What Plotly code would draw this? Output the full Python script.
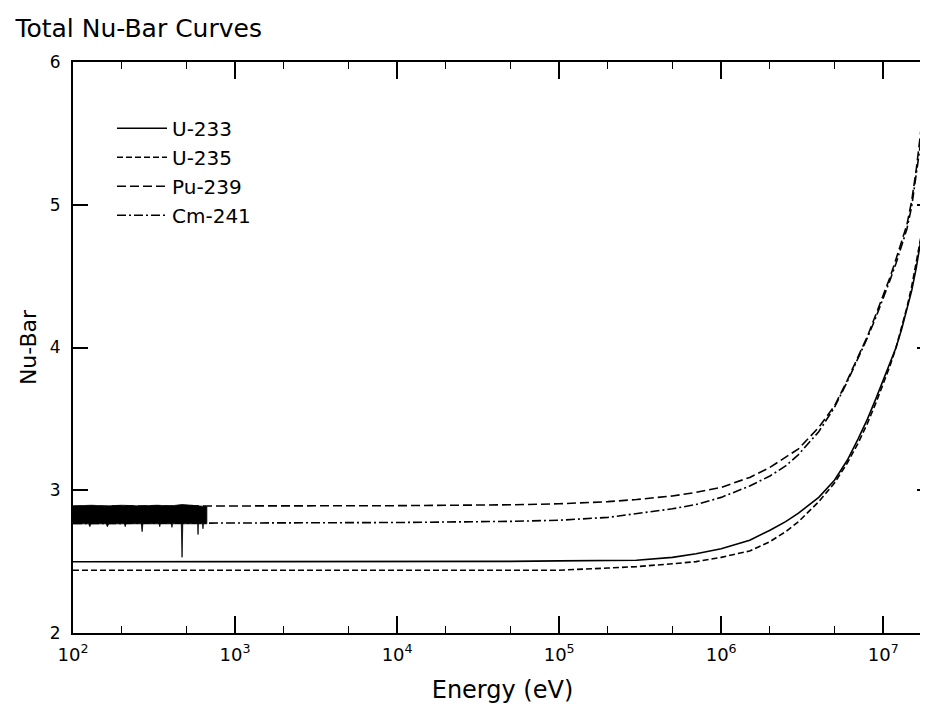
import plotly.graph_objects as go
import math

# ---------------- data ----------------
energy = [1e2, 1e3, 1e4, 5e4, 1e5, 2e5, 3e5, 5e5, 7e5, 1e6, 1.5e6, 2e6, 2.5e6, 3e6,
          4e6, 5e6, 6e6, 7e6, 8e6, 9e6, 1e7, 1.1e7, 1.2e7, 1.3e7, 1.4e7, 1.5e7,
          1.6e7, 1.7e7, 1.8e7, 1.9e7, 2e7]

u233 = [2.499, 2.499, 2.500, 2.502, 2.505, 2.507, 2.510, 2.530, 2.555, 2.590, 2.650,
        2.720, 2.780, 2.840, 2.950, 3.070, 3.210, 3.360, 3.500, 3.640, 3.770, 3.890,
        4.000, 4.130, 4.260, 4.400, 4.560, 4.730, 4.910, 5.080, 5.250]

u235 = [2.440, 2.440, 2.440, 2.435, 2.440, 2.455, 2.465, 2.485, 2.500, 2.530, 2.575,
        2.640, 2.710, 2.780, 2.920, 3.050, 3.190, 3.330, 3.470, 3.610, 3.740, 3.870,
        4.000, 4.140, 4.280, 4.430, 4.590, 4.760, 4.940, 5.120, 5.300]

pu239 = [2.888, 2.889, 2.892, 2.898, 2.905, 2.920, 2.935, 2.960, 2.985, 3.020, 3.090,
         3.160, 3.230, 3.290, 3.440, 3.590, 3.770, 3.930, 4.080, 4.230, 4.360, 4.490,
         4.620, 4.740, 4.860, 5.030, 5.250, 5.500, 5.820, 6.150, 6.450]

cm241 = [2.767, 2.770, 2.774, 2.782, 2.790, 2.810, 2.835, 2.870, 2.900, 2.950, 3.030,
         3.100, 3.170, 3.250, 3.410, 3.580, 3.760, 3.920, 4.070, 4.210, 4.340, 4.470,
         4.590, 4.710, 4.830, 4.990, 5.200, 5.430, 5.720, 6.020, 6.300]

# resolved-resonance band (Pu-239 / Cm-241 fluctuations below ~700 eV)
res_top_energy = [100, 130, 160, 200, 260, 330, 400, 470, 540, 600, 670]
res_top = [2.890, 2.895, 2.890, 2.895, 2.890, 2.895, 2.890, 2.900, 2.895, 2.890, 2.885]
res_bot_energy = [670, 638, 634, 630, 594, 591, 588, 476, 471, 466, 411, 408, 405,
                  346, 343, 340, 270, 267, 264, 212, 210, 208, 166, 163, 160,
                  129, 127, 125, 100]
res_bot = [2.765, 2.765, 2.730, 2.765, 2.765, 2.690, 2.765, 2.765, 2.530, 2.765,
           2.765, 2.740, 2.765, 2.765, 2.745, 2.765, 2.765, 2.710, 2.765, 2.765,
           2.745, 2.765, 2.765, 2.745, 2.765, 2.765, 2.745, 2.765, 2.765]

series_names = ["U-233", "U-235", "Pu-239", "Cm-241"]
x_tick_values = [1e2, 1e3, 1e4, 1e5, 1e6, 1e7]
x_tick_text = ["10<sup>2</sup>", "10<sup>3</sup>", "10<sup>4</sup>",
               "10<sup>5</sup>", "10<sup>6</sup>", "10<sup>7</sup>"]
x_range = [1e2, 2e7]
y_range = [2, 6]
y_tick_values = [2, 3, 4, 5, 6]

# ---------------- figure ----------------
FONT = "DejaVu Sans, Liberation Sans, Arial, sans-serif"
fig = go.Figure()

fig.add_trace(go.Scatter(
    x=res_top_energy + res_bot_energy, y=res_top + res_bot,
    fill="toself", fillcolor="black", mode="lines",
    line=dict(color="black", width=0.8), showlegend=False, hoverinfo="skip"))

styles = [
    dict(color="black", width=1.6, dash="solid"),
    dict(color="black", width=1.6, dash="6px,3px"),
    dict(color="black", width=1.6, dash="9px,4px"),
    dict(color="black", width=1.6, dash="9px,3px,2px,3px"),
]
for name, vals, st in zip(series_names, [u233, u235, pu239, cm241], styles):
    fig.add_trace(go.Scatter(x=energy, y=vals, mode="lines", name=name, line=st))

# helper trace so the top (mirror) axis with its minor ticks is drawn
fig.add_trace(go.Scatter(x=x_range, y=[y_range[1], y_range[1]], xaxis="x2",
                         mode="lines", line=dict(width=0, color="rgba(0,0,0,0)"),
                         showlegend=False, hoverinfo="skip"))

xr = [math.log10(v) for v in x_range]

fig.update_layout(
    width=928, height=711,
    margin=dict(l=65, r=4, t=54, b=86),
    paper_bgcolor="white", plot_bgcolor="white",
    font=dict(family=FONT, color="black", size=17),
    title=dict(text="Total Nu-Bar Curves", x=0.008, xanchor="left", xref="container",
               y=0.972, yanchor="middle", yref="container",
               font=dict(size=25, family=FONT)),
    legend=dict(x=0.0454, y=0.918, xanchor="left", yanchor="top",
                bgcolor="rgba(0,0,0,0)", font=dict(size=20, family=FONT),
                itemwidth=50, tracegroupgap=0),
    showlegend=True,
    xaxis=dict(
        type="log", range=xr, automargin=False,
        tickvals=x_tick_values, ticktext=x_tick_text, ticklabelstandoff=4,
        ticks="inside", ticklen=17, tickwidth=1.5, tickcolor="black",
        minor=dict(ticks="inside", ticklen=7, tickwidth=1.2, tickcolor="black",
                   showgrid=False),
        showline=True, linecolor="black", linewidth=2, mirror=False,
        showgrid=False, zeroline=False,
        tickfont=dict(size=18, family=FONT),
        title=dict(text="Energy (eV)", font=dict(size=24, family=FONT), standoff=18),
    ),
    xaxis2=dict(
        type="log", range=xr, overlaying="x", side="top", anchor="y",
        automargin=False, showticklabels=False, tickvals=x_tick_values,
        ticks="inside", ticklen=17, tickwidth=1.5, tickcolor="black",
        minor=dict(ticks="inside", ticklen=7, tickwidth=1.2, tickcolor="black",
                   showgrid=False),
        showline=True, linecolor="black", linewidth=2,
        showgrid=False, zeroline=False,
    ),
    yaxis=dict(
        range=y_range, tickvals=y_tick_values, automargin=False,
        ticklabelstandoff=7,
        ticks="inside", ticklen=15, tickwidth=1.5, tickcolor="black",
        showline=True, linecolor="black", linewidth=2, mirror="ticks",
        showgrid=False, zeroline=False,
        tickfont=dict(size=17, family=FONT),
        title=dict(text="Nu-Bar", font=dict(size=22, family=FONT), standoff=7),
    ),
)

fig.write_html("out.html")
